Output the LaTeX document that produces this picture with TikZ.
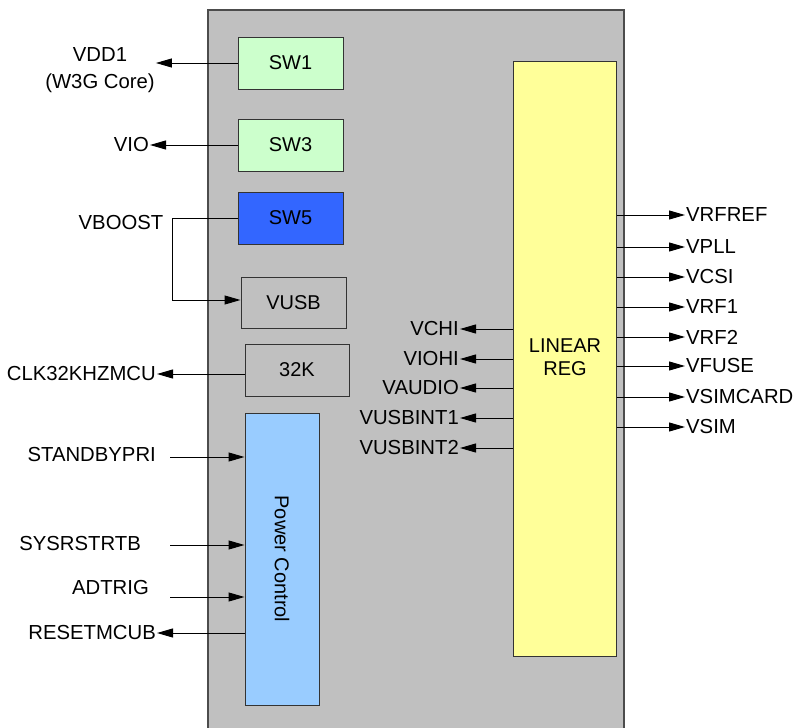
\documentclass[tikz,border=0pt]{standalone}
\usepackage{fontspec}
\setmainfont{Liberation Sans}
\usetikzlibrary{arrows.meta,calc}
\definecolor{bggray}{HTML}{C0C0C0}
\definecolor{swgreen}{HTML}{CCFFCC}
\definecolor{swblue}{HTML}{3366FF}
\definecolor{pcblue}{HTML}{99CCFF}
\definecolor{lryellow}{HTML}{FFFF99}
\definecolor{edge}{HTML}{333333}
\tikzset{
  blk/.style={draw=edge,line width=1pt,inner sep=0pt,font=\fontsize{20}{22}\selectfont},
  lbl/.style={inner sep=1pt,font=\fontsize{20.3}{27}\selectfont},
  arr/.style={draw=black,line width=1pt,-{Triangle[length=16pt,width=9pt]}},
  wire/.style={draw=black,line width=1pt}
}
\begin{document}
\begin{tikzpicture}[x=1pt,y=-1pt]
\useasboundingbox (0,0) rectangle (796,728);
\begin{scope}
\clip (0,0) rectangle (796,728);
\draw[fill=bggray,draw=black!70,line width=1.6pt] (208,10) rectangle (624,760);
\end{scope}
% blocks
\node[blk,fill=swgreen,minimum width=105pt,minimum height=52pt] (sw1) at (290.5,63) {SW1};
\node[blk,fill=swgreen,minimum width=105pt,minimum height=52pt] (sw3) at (290.5,145) {SW3};
\node[blk,fill=swblue,minimum width=105pt,minimum height=52pt] (sw5) at (290.5,218) {SW5};
\node[blk,fill=bggray,minimum width=105pt,minimum height=51pt] (vusb) at (293.5,302.5) {VUSB};
\node[blk,fill=bggray,minimum width=104pt,minimum height=52pt] (k32) at (297,370) {32K};
\node[blk,fill=pcblue,minimum width=74pt,minimum height=292pt] (pc) at (282,559) {};
\node[font=\fontsize{20}{22}\selectfont,rotate=-90] (pct) at (pc.center) {Power Control};
\node[blk,fill=lryellow,minimum width=103pt,minimum height=595pt] (lr) at (564.5,358.5) {};
\node[font=\fontsize{20}{23.5}\selectfont,align=center] (lrt) at (565,357) {LINEAR\\REG};
% left labels
\node[lbl,align=center] (vdd1) at (100,70) {VDD1\\(W3G Core)};
\node[lbl,anchor=east] (vio) at (150,145) {VIO};
\node[lbl] (vboost) at (121,223) {VBOOST};
\node[lbl,anchor=east] (clk) at (157,374) {CLK32KHZMCU};
\node[lbl,anchor=east] (stb) at (157,455) {STANDBYPRI};
\node[lbl,anchor=east] (sys) at (142,544) {SYSRSTRTB};
\node[lbl,anchor=east] (adt) at (150,588) {ADTRIG};
\node[lbl,anchor=east] (rst) at (157,633) {RESETMCUB};
% connectors left
\draw[arr] (sw1.west) -- (sw1.west -| vdd1.east);
\draw[arr] (sw3.west) -- (vio.east);
\coordinate (vb) at (172,218);
\draw[wire,-{Triangle[length=16pt,width=9pt]}] (sw5.west) -- (vb) |- (vusb.west |- 0,300);
\draw[arr] (k32.west |- clk) -- (clk.east);
\coordinate (i1) at (170,457);
\coordinate (i2) at (170,545);
\coordinate (i3) at (170,597);
\draw[arr] (i1) -- (i1 -| pc.west);
\draw[arr] (i2) -- (i2 -| pc.west);
\draw[arr] (i3) -- (i3 -| pc.west);
\draw[arr] (pc.west |- rst) -- (rst.east);
% linear reg left outputs
\foreach \n/\t/\y in {vchi/VCHI/329,viohi/VIOHI/359,vaudio/VAUDIO/388,vub1/VUSBINT1/418,vub2/VUSBINT2/448}{
  \node[lbl,anchor=east] (\n) at (460,\y) {\t};
  \draw[arr] (lr.west |- \n) -- (\n.east);
}
% linear reg right outputs
\foreach \n/\t/\y in {vrfref/VRFREF/215,vpll/VPLL/247,vcsi/VCSI/277,vrf1/VRF1/307,vrf2/VRF2/337,vfuse/VFUSE/366,vsimc/VSIMCARD/397,vsim/VSIM/427}{
  \node[lbl,anchor=west] (\n) at (685,\y) {\t};
  \draw[arr] (lr.east |- \n) -- (\n.west);
}
\end{tikzpicture}
\end{document}
